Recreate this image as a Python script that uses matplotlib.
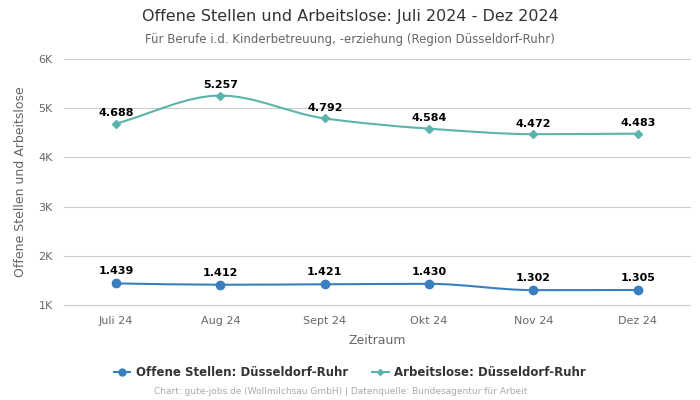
import numpy as np
import matplotlib
matplotlib.use("Agg")
import matplotlib.pyplot as plt
from matplotlib.path import Path
from matplotlib.patches import PathPatch

months = ["Juli 24", "Aug 24", "Sept 24", "Okt 24", "Nov 24", "Dez 24"]
offene = [1439, 1412, 1421, 1430, 1302, 1305]
arbeitslose = [4688, 5257, 4792, 4584, 4472, 4483]
labels_offene = ["1.439", "1.412", "1.421", "1.430", "1.302", "1.305"]
labels_arbeitslose = ["4.688", "5.257", "4.792", "4.584", "4.472", "4.483"]

c_blue = "#3a7ebf"
c_teal = "#5ab4ac"


def smooth_path(x, y):
    # monotone cubic (Fritsch-Carlson) as bezier segments
    x = np.asarray(x, float)
    y = np.asarray(y, float)
    h = np.diff(x)
    d = np.diff(y) / h
    m = np.zeros_like(y)
    m[0], m[-1] = d[0], d[-1]
    for i in range(1, len(y) - 1):
        if d[i - 1] * d[i] <= 0:
            m[i] = 0
        else:
            m[i] = 2 / (1 / d[i - 1] + 1 / d[i])
    verts = [(x[0], y[0])]
    codes = [Path.MOVETO]
    for i in range(len(x) - 1):
        verts += [(x[i] + h[i] / 3, y[i] + m[i] * h[i] / 3),
                  (x[i + 1] - h[i] / 3, y[i + 1] - m[i + 1] * h[i] / 3),
                  (x[i + 1], y[i + 1])]
        codes += [Path.CURVE4] * 3
    return Path(verts, codes)


fig = plt.figure(figsize=(7, 4), dpi=100)
ax = fig.add_axes([0.0914, 0.2375, 0.8943, 0.615])

xs = np.arange(len(months))
for vals, col, mk, ms, lab in [(offene, c_blue, "o", 6, "Offene Stellen: Düsseldorf-Ruhr"),
                               (arbeitslose, c_teal, "D", 4, "Arbeitslose: Düsseldorf-Ruhr")]:
    ax.add_patch(PathPatch(smooth_path(xs, vals), facecolor="none", edgecolor=col, lw=1.5, zorder=3))
    ax.plot(xs, vals, linestyle="none", marker=mk, markersize=ms, color=col, zorder=4)
    ax.plot([], [], color=col, marker=mk, markersize=ms - 1, lw=1.5, label=lab)

for x, v, t in zip(xs, offene, labels_offene):
    ax.annotate(t, (x, v), xytext=(0, 5), textcoords="offset points", ha="center",
                va="bottom", fontsize=8, fontweight="bold", color="black")
for x, v, t in zip(xs, arbeitslose, labels_arbeitslose):
    ax.annotate(t, (x, v), xytext=(0, 4), textcoords="offset points", ha="center",
                va="bottom", fontsize=8, fontweight="bold", color="black")

ax.set_xlim(-0.5, 5.5)
ax.set_ylim(1000, 6000)
ax.set_xticks(xs)
ax.set_xticklabels(months)
ax.set_yticks([1000, 2000, 3000, 4000, 5000, 6000])
ax.set_yticklabels(["1K", "2K", "3K", "4K", "5K", "6K"])
ax.tick_params(axis="both", length=0, labelsize=8, colors="#666666", pad=8)
ax.grid(axis="y", color="#cccccc", lw=0.8)
for gl in ax.get_ygridlines():
    gl.set_clip_on(False)
ax.set_axisbelow(True)
for s in ax.spines.values():
    s.set_visible(False)

ax.set_xlabel("Zeitraum", fontsize=9, color="#666666", labelpad=6)
ax.set_ylabel("Offene Stellen und Arbeitslose", fontsize=9, color="#666666", labelpad=8)

fig.text(0.5, 0.958, "Offene Stellen und Arbeitslose: Juli 2024 - Dez 2024", ha="center",
         va="center", fontsize=11.5, color="#333333")
fig.text(0.5, 0.902, "Für Berufe i.d. Kinderbetreuung, -erziehung (Region Düsseldorf-Ruhr)",
         ha="center", va="center", fontsize=8.5, color="#666666")

fig.legend(loc="center", bbox_to_anchor=(0.5, 0.068), ncol=2, frameon=False,
           prop={"size": 8.5, "weight": "bold"}, labelcolor="#333333",
           handlelength=1.4, handletextpad=0.5, columnspacing=2.0)
fig.text(0.486, 0.02, "Chart: gute-jobs.de (Wollmilchsau GmbH) | Datenquelle: Bundesagentur für Arbeit",
         ha="center", va="center", fontsize=6.5, color="#aaaaaa")

fig.savefig("out.png", dpi=100)
